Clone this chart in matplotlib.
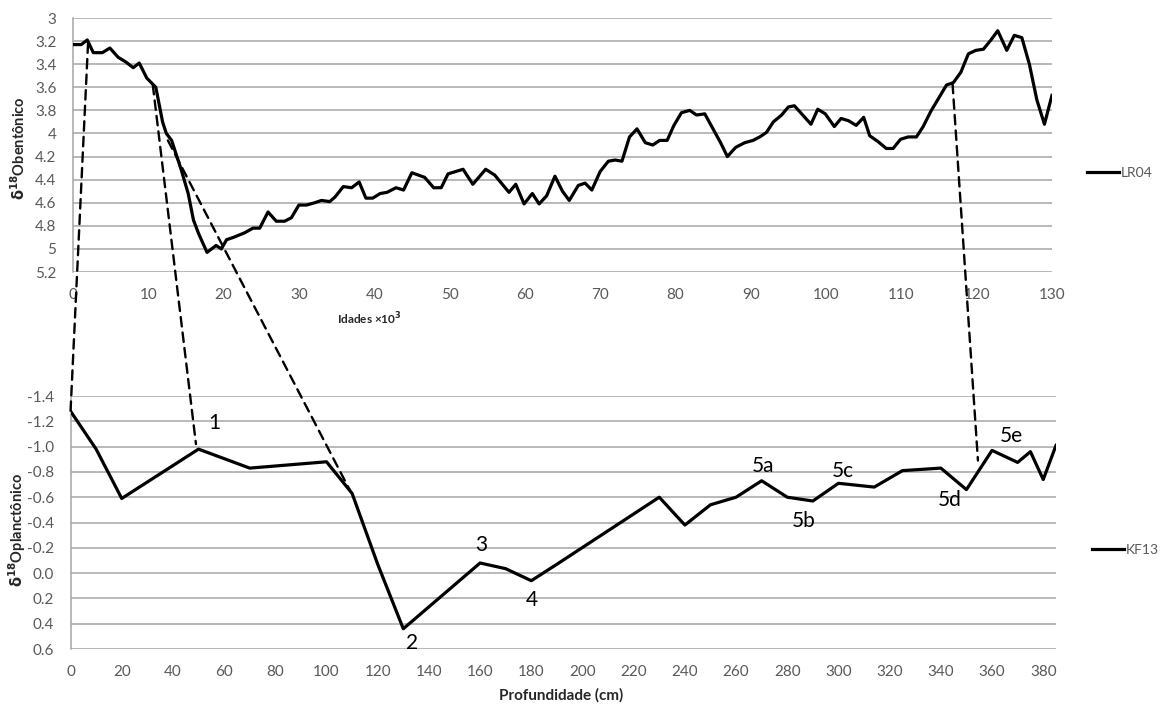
import matplotlib
matplotlib.use('Agg')
import matplotlib.pyplot as plt
from matplotlib.patches import ConnectionPatch

plt.rcParams['font.family'] = ['Lato', 'DejaVu Sans']

# LR04 benthic stack (age in kyr, d18O)
lr04_age = [0, 1.1, 1.9, 2.7, 3.9, 4.9, 6.0, 7.0, 8.0, 8.8, 9.8, 10.4, 11.0, 11.3,
            11.9, 12.4, 13.1, 14.4, 15.3, 16.0, 16.7, 17.8, 19.0, 19.7, 20.4, 21.3,
            22.8, 23.9, 24.8, 25.9, 27.0, 28.1, 29.0, 30.0, 31.0, 32.1, 33.0, 34.1,
            34.8, 35.9, 37.0, 38.0, 38.9, 39.8, 40.8, 41.7, 42.9, 43.9, 45.0, 46.7,
            47.9, 48.9, 49.8, 51.8, 53.1, 54.8, 56.0, 57.9, 58.8, 59.9, 61.0, 61.9,
            62.9, 64.0, 65.0, 65.9, 67.1, 68.0, 68.9, 70.0, 71.1, 72.0, 72.9, 73.9,
            74.9, 76.0, 77.0, 77.9, 78.9, 79.8, 80.8, 81.9, 82.8, 83.9, 85.0, 86.0,
            86.9, 88.0, 89.2, 90.3, 91.2, 92.1, 93.0, 94.1, 95.0, 95.8, 96.9, 98.0,
            98.9, 99.9, 101.1, 102.0, 103.0, 104.0, 105.0, 105.8, 106.9, 108.0,
            108.9, 109.9, 110.9, 112.0, 112.9, 113.9, 114.9, 116.0, 116.9, 117.9,
            118.9, 119.9, 120.9, 121.9, 122.8, 124.0, 125.0, 126.0, 127.0, 128.0,
            129.0, 130.0]
lr04_d18o = [3.23, 3.23, 3.19, 3.30, 3.30, 3.26, 3.34, 3.38, 3.43, 3.39, 3.52, 3.56,
             3.60, 3.70, 3.90, 4.00, 4.06, 4.32, 4.52, 4.75, 4.87, 5.03, 4.97, 5.00,
             4.92, 4.90, 4.86, 4.82, 4.82, 4.68, 4.76, 4.76, 4.73, 4.62, 4.62, 4.60,
             4.58, 4.59, 4.55, 4.46, 4.47, 4.42, 4.56, 4.56, 4.52, 4.51, 4.47, 4.49,
             4.34, 4.38, 4.47, 4.47, 4.35, 4.31, 4.44, 4.31, 4.36, 4.51, 4.44, 4.61,
             4.52, 4.61, 4.54, 4.37, 4.50, 4.58, 4.45, 4.43, 4.49, 4.33, 4.24, 4.23,
             4.24, 4.03, 3.96, 4.08, 4.10, 4.06, 4.06, 3.93, 3.82, 3.80, 3.84, 3.83,
             3.96, 4.08, 4.20, 4.12, 4.08, 4.06, 4.03, 3.99, 3.90, 3.84, 3.77, 3.76,
             3.84, 3.92, 3.79, 3.83, 3.94, 3.87, 3.89, 3.93, 3.86, 4.02, 4.07, 4.13,
             4.13, 4.05, 4.03, 4.03, 3.94, 3.81, 3.70, 3.58, 3.56, 3.47, 3.31, 3.28,
             3.27, 3.19, 3.11, 3.28, 3.15, 3.17, 3.40, 3.71, 3.92, 3.67]

# KF13 planktonic record (depth in cm, d18O)
kf13_depth = [0, 10, 20, 50, 70, 100, 110, 120, 130, 160, 170, 180, 190, 230, 240,
              250, 260, 270, 280, 290, 300, 314, 325, 340, 350, 360, 370, 375, 380, 385]
kf13_d18o = [-1.28, -0.98, -0.59, -0.98, -0.83, -0.88, -0.63, -0.07, 0.44, -0.08,
             -0.035, 0.06, -0.07, -0.60, -0.38, -0.54, -0.60, -0.73, -0.60, -0.57,
             -0.71, -0.68, -0.81, -0.83, -0.66, -0.97, -0.875, -0.96, -0.74, -1.01]

# isotope stage labels (text, depth, value)
stage_text = ['1', '2', '3', '4', '5a', '5b', '5c', '5d', '5e']
stage_x = [56, 133.5, 160.4, 180.2, 270.6, 286.6, 301.6, 343.6, 367.4]
stage_y = [-1.19, 0.55, -0.22, 0.21, -0.845, -0.41, -0.81, -0.58, -1.08]

# tie points between the two records: (age, LR04 value) -> (depth, KF13 value)
tie_top = [(2.0, 3.22), (10.6, 3.58), (12.6, 4.06), (116.8, 3.57)]
tie_bot = [(0, -1.28), (49, -1.02), (109, -0.66), (354.5, -0.89)]

grid_col = '#a6a6a6'
tick_col = '#595959'
label_col = '#262626'

fig = plt.figure(figsize=(11.62, 7.04), dpi=100)
ax1 = fig.add_axes([0.0628, 0.6136, 0.8425, 0.3608])
ax2 = fig.add_axes([0.0607, 0.0781, 0.8481, 0.3594])

ax1.plot(lr04_age, lr04_d18o, color='black', lw=2.3, label='LR04', zorder=3)
ax1.set_xlim(0, 130)
ax1.set_ylim(5.2, 3.0)
ax1.set_xticks(range(0, 131, 10))
ax1.set_yticks([3, 3.2, 3.4, 3.6, 3.8, 4, 4.2, 4.4, 4.6, 4.8, 5, 5.2])
ax1.set_yticklabels(['3', '3.2', '3.4', '3.6', '3.8', '4', '4.2', '4.4', '4.6',
                     '4.8', '5', '5.2'])

ax2.plot(kf13_depth, kf13_d18o, color='black', lw=2.3, label='KF13', zorder=3)
ax2.set_xlim(0, 385)
ax2.set_ylim(0.6, -1.4)
ax2.set_xticks(range(0, 381, 20))
ax2.set_yticks([-1.4, -1.2, -1.0, -0.8, -0.6, -0.4, -0.2, 0.0, 0.2, 0.4, 0.6])
ax2.set_yticklabels(['-1.4', '-1.2', '-1.0', '-0.8', '-0.6', '-0.4', '-0.2',
                     '0.0', '0.2', '0.4', '0.6'])

for ax in (ax1, ax2):
    ax.grid(axis='y', color=grid_col, lw=1.1)
    ax.set_axisbelow(True)
    for s in ('top', 'right', 'bottom'):
        ax.spines[s].set_visible(False)
    ax.spines['left'].set_color(grid_col)
    ax.spines['left'].set_linewidth(1.1)
    ax.tick_params(length=0, labelsize=11, colors=tick_col)
    ax.tick_params(axis='y', pad=12)
    ax.tick_params(axis='x', pad=11.5)

for t, x, y in zip(stage_text, stage_x, stage_y):
    ax2.text(x, y, t, fontsize=15, ha='center', va='center', color='black')

for (xa, ya), (xb, yb) in zip(tie_top, tie_bot):
    con = ConnectionPatch(xyA=(xa, ya), coordsA=ax1.transData,
                          xyB=(xb, yb), coordsB=ax2.transData,
                          color='black', lw=1.7, linestyle=(0, (4, 2.6)), zorder=5)
    fig.add_artist(con)

fig.text(0.016, 0.79, r'$\mathbf{\delta}^{\mathbf{18}}$Obentônico', rotation=90,
         fontsize=10.5, fontweight='bold', color=label_col, ha='center', va='center')
fig.text(0.015, 0.247, r'$\mathbf{\delta}^{\mathbf{18}}$Oplanctônico', rotation=90,
         fontsize=10.5, fontweight='bold', color=label_col, ha='center', va='center')
fig.text(0.318, 0.548, r'Idades ×10$^{\mathbf{3}}$', fontsize=8.5, fontweight='bold',
         color=label_col, ha='center', va='center')
fig.text(0.483, 0.0128, 'Profundidade (cm)', fontsize=11, fontweight='bold',
         color=label_col, ha='center', va='center')

ax1.legend(loc='center left', bbox_to_anchor=(0.9355, 0.754), bbox_transform=fig.transFigure,
           frameon=False, handlelength=2.3, handletextpad=0.15, fontsize=10,
           labelcolor=tick_col, borderaxespad=0, borderpad=0)
ax2.legend(loc='center left', bbox_to_anchor=(0.9398, 0.2188), bbox_transform=fig.transFigure,
           frameon=False, handlelength=2.3, handletextpad=0.15, fontsize=10,
           labelcolor=tick_col, borderaxespad=0, borderpad=0)

fig.savefig('out.png', dpi=100)
